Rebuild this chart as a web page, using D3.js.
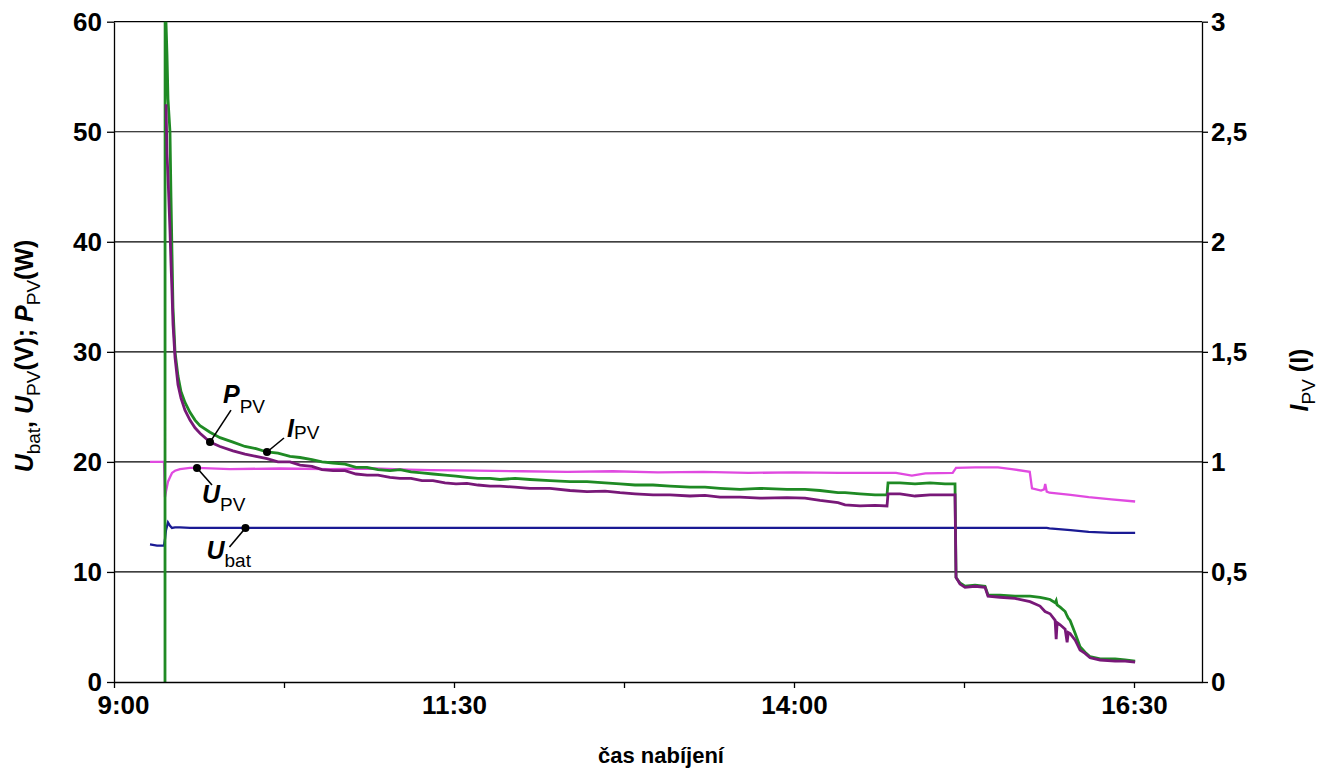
<!DOCTYPE html>
<html><head><meta charset="utf-8">
<script src="https://cdn.jsdelivr.net/npm/d3@7"></script>
<style>
body{margin:0;background:#fff;}
svg{display:block;}
text{font-family:Arial,"Liberation Sans",sans-serif;}
</style>
</head><body>
<svg id="c" width="1323" height="778"></svg>
<script>
// ---- data ----
const timesA = ["9:22:30","9:22:33","9:22:56","9:23:23","9:23:49","9:24:42","9:25:09","9:25:35","9:26:02","9:26:55",
"9:28:14","9:29:33","9:31:19","9:33:31","9:35:44","9:37:56","9:42:21","9:46:46","9:52:30","9:57:48",
"10:02:39","10:07:30","10:12:21","10:17:39","10:22:04","10:27:22","10:31:46","10:36:38","10:41:55","10:46:46",
"10:51:38","10:56:29","11:01:46","11:06:11","11:11:02","11:15:53","11:20:44","11:26:02","11:30:53","11:35:44",
"11:40:35","11:45:53","11:50:18","11:56:55","12:03:32","12:12:22","12:21:11","12:28:41","12:36:38","12:43:15",
"12:49:52","12:57:48","13:05:18","13:14:07","13:20:44","13:27:21","13:36:11","13:45:00","13:56:55","14:04:52",
"14:11:29","14:19:25","14:22:31","14:29:07","14:35:44","14:41:02","14:41:29","14:46:46","14:53:24","15:00:00",
"15:06:37","15:11:02","15:11:29","15:13:14","15:15:27","15:19:52","15:24:17","15:25:36","15:30:53","15:37:30",
"15:44:07","15:48:32","15:50:45","15:52:58","15:55:12","15:55:40","15:56:05","15:57:25","15:59:38","16:00:30",
"16:01:00","16:01:49","16:04:04","16:06:12","16:08:25","16:10:38","16:15:04","16:21:41","16:26:06","16:30:30"];
// I_PV in A (right axis)
const iPV = [0,3.2,3.0,2.85,2.65,2.5,2.2,1.95,1.7,1.5,
1.39,1.32,1.27,1.225,1.19,1.165,1.135,1.11,1.09,1.07,
1.06,1.045,1.04,1.025,1.02,1.01,1.0,0.995,0.99,0.975,
0.975,0.965,0.96,0.965,0.955,0.95,0.945,0.94,0.935,0.93,
0.925,0.925,0.92,0.925,0.92,0.915,0.91,0.91,0.905,0.9,
0.895,0.895,0.89,0.885,0.885,0.88,0.875,0.88,0.875,0.875,
0.87,0.86,0.86,0.855,0.85,0.85,0.905,0.905,0.9,0.905,
0.9,0.9,0.475,0.45,0.435,0.44,0.435,0.395,0.395,0.39,
0.39,0.385,0.38,0.375,0.36,0.37,0.35,0.34,0.32,0.30,
0.29,0.28,0.22,0.16,0.135,0.115,0.105,0.105,0.1,0.095];
// P_PV in W (left axis)
const pPV = [null,null,52.5,48.0,46.0,41.0,38.0,35.5,32.5,29.5,
27.0,25.8,24.7,23.8,23.1,22.6,21.8,21.4,21.0,20.7,
20.5,20.3,20.0,20.0,19.7,19.6,19.3,19.2,19.2,18.9,
18.8,18.8,18.6,18.5,18.5,18.3,18.3,18.1,18.0,18.05,
17.9,17.8,17.8,17.7,17.6,17.6,17.4,17.3,17.35,17.2,
17.1,17.0,17.0,16.9,16.95,16.8,16.8,16.7,16.75,16.7,
16.5,16.3,16.1,16.0,16.05,16.0,17.1,17.1,16.9,17.0,
17.0,17.0,9.5,8.9,8.6,8.7,8.6,7.8,7.7,7.6,
7.3,6.9,6.4,6.2,5.6,3.9,5.4,5.2,4.8,3.6,
4.5,4.4,3.8,2.9,2.6,2.2,2.0,1.9,1.9,1.8];

const timesB = ["9:15:53","9:18:58","9:22:04","9:22:30","9:22:56","9:23:49","9:24:42","9:25:35","9:26:55","9:29:07",
"9:33:31","9:36:37","9:51:11","10:13:14","10:35:00","10:55:00","11:10:00","11:20:00","11:40:00","12:00:00",
"12:20:00","12:40:00","13:00:00","13:20:00","13:40:00","14:00:00","14:20:00","14:45:00","14:52:00","14:58:00",
"15:10:00","15:11:30","15:20:00","15:30:00","15:36:00","15:44:00","15:45:00","15:49:00","15:50:20","15:50:50",
"15:51:30","15:52:43","16:02:00","16:10:00","16:20:00","16:30:30"];
// U_PV in V
const uPV = [20.0,20.0,20.0,16.8,17.3,18.2,18.6,19.0,19.2,19.35,
19.45,19.45,19.35,19.4,19.35,19.4,19.3,19.25,19.2,19.15,
19.1,19.15,19.05,19.1,19.0,19.05,19.0,19.0,18.75,18.95,
19.0,19.45,19.5,19.5,19.35,19.1,17.6,17.4,17.5,18.0,
17.3,17.2,17.0,16.8,16.6,16.4];
// U_bat in V
const uBat = [12.5,12.4,12.4,13.0,13.8,14.5,14.2,14.0,14.05,14.05,
14.0,14.0,14.0,14.0,14.0,14.0,14.0,14.0,14.0,14.0,
14.0,14.0,14.0,14.0,14.0,14.0,14.0,14.0,14.0,14.0,
14.0,14.0,14.0,14.0,14.0,14.0,14.0,14.0,14.0,14.0,
14.0,13.95,13.8,13.65,13.55,13.55];

const xDomain = ["9:00:00","17:00:00"];
const xTicks = ["9:00:00","10:15:00","11:30:00","12:45:00","14:00:00","15:15:00","16:30:00"];
const xTickLabels = ["9:00","","11:30","","14:00","","16:30"];
const yLeftTicks = [0,10,20,30,40,50,60];
const yRightTicks = [0,0.5,1,1.5,2,2.5,3];
const yRightLabels = ["0","0,5","1","1,5","2","2,5","3"];

// annotation anchors
const annotations = [
  {main:"P", sub:"PV", series:"P", t:"9:42:21", v:21.8, tx:13, ty:-39, sdy:10, lx:21, ly:-32},
  {main:"I", sub:"PV", series:"I", t:"10:07:30", v:1.045, tx:20, ty:-15, sdy:2, lx:17, ly:-14},
  {main:"U", sub:"PV", series:"U", t:"9:36:37", v:19.45, tx:5, ty:35, sdy:8, lx:15, ly:17},
  {main:"U", sub:"bat", series:"U", t:"9:58:00", v:14.0, tx:-39, ty:31, sdy:8, lx:-16, ly:19}
];

// ---- chart ----
const parse = d3.timeParse("%H:%M:%S");
const L = 114, R = 1202, T = 21.7, B = 682;
const svg = d3.select("#c");
const x = d3.scaleTime().domain(xDomain.map(parse)).range([L, R]);
const yL = d3.scaleLinear().domain([0, 60]).range([B, T]);
const yR = d3.scaleLinear().domain([0, 3]).range([B, T]);

// gridlines
svg.append("g").selectAll("line").data(yLeftTicks.filter(d => d > 0)).join("line")
  .attr("x1", L).attr("x2", R).attr("y1", d => yL(d)).attr("y2", d => yL(d))
  .attr("stroke", "#000").attr("stroke-width", 1.2);

svg.append("defs").append("clipPath").attr("id", "clip")
  .append("rect").attr("x", L).attr("y", T).attr("width", R - L).attr("height", B - T);

const g = svg.append("g").attr("clip-path", "url(#clip)");
const lineL = () => d3.line().defined(d => d[1] != null)
  .x(d => x(parse(d[0]))).y(d => yL(d[1]));
const lineR = d3.line().x(d => x(parse(d[0]))).y(d => yR(d[1]));

g.append("path").datum(timesB.map((t, i) => [t, uPV[i]])).attr("d", lineL())
  .attr("fill", "none").attr("stroke", "#e04ae0").attr("stroke-width", 2.3);
g.append("path").datum(timesB.map((t, i) => [t, uBat[i]])).attr("d", lineL())
  .attr("fill", "none").attr("stroke", "#1a1a94").attr("stroke-width", 2.3);
g.append("path").datum(timesA.map((t, i) => [t, iPV[i]])).attr("d", lineR)
  .attr("fill", "none").attr("stroke", "#1f8a24").attr("stroke-width", 2.8);
g.append("path").datum(timesA.map((t, i) => [t, pPV[i]])).attr("d", lineL())
  .attr("fill", "none").attr("stroke", "#781878").attr("stroke-width", 2.8);

// axes
const fs = "26px";
const axL = svg.append("g").attr("transform", `translate(${L},0)`)
  .call(d3.axisLeft(yL).tickValues(yLeftTicks).tickSize(7).tickSizeOuter(0).tickPadding(5));
const axR = svg.append("g").attr("transform", `translate(${R},0)`)
  .call(d3.axisRight(yR).tickValues(yRightTicks).tickSize(6).tickSizeOuter(0).tickPadding(3)
    .tickFormat((d, i) => yRightLabels[i]));
const axB = svg.append("g").attr("transform", `translate(0,${B})`)
  .call(d3.axisBottom(x).tickValues(xTicks.map(parse)).tickSize(6).tickSizeOuter(0).tickPadding(8)
    .tickFormat((d, i) => xTickLabels[i]));
[axL, axR, axB].forEach(a => {
  a.selectAll("path,line").attr("stroke", "#000").attr("stroke-width", 1.3);
  a.selectAll("text").attr("fill", "#000").style("font-size", fs).style("font-weight", "bold")
    .style("font-family", "Arial, 'Liberation Sans', sans-serif");
});
// the first time label sits a little right of its tick, as in the reference
axB.selectAll(".tick text").filter((d, i) => i === 0).attr("dx", 9);

// axis titles
const lt = svg.append("text").attr("transform", "translate(33,356) rotate(-90)")
  .attr("text-anchor", "middle").style("font-size", "25px").style("font-weight", "bold");
lt.append("tspan").text("U").style("font-style", "italic");
lt.append("tspan").text("bat").attr("dy", 7).style("font-size", "19px").style("font-weight", "normal");
lt.append("tspan").text(", ").attr("dy", -7);
lt.append("tspan").text("U").style("font-style", "italic");
lt.append("tspan").text("PV").attr("dy", 7).style("font-size", "19px").style("font-weight", "normal");
lt.append("tspan").text("(V);  ").attr("dy", -7);
lt.append("tspan").text("P").style("font-style", "italic");
lt.append("tspan").text("PV").attr("dy", 7).style("font-size", "19px").style("font-weight", "normal");
lt.append("tspan").text("(W)").attr("dy", -7);

const rt = svg.append("text").attr("transform", "translate(1308,380) rotate(-90)")
  .attr("text-anchor", "middle").style("font-size", "25px").style("font-weight", "bold");
rt.append("tspan").text("I").style("font-style", "italic");
rt.append("tspan").text("PV").attr("dy", 7).style("font-size", "19px").style("font-weight", "normal");
rt.append("tspan").text(" (I)").attr("dy", -7);

svg.append("text").attr("x", 661).attr("y", 763).attr("text-anchor", "middle")
  .style("font-size", "22px").style("font-weight", "bold").text("čas nabíjení");

// annotations
annotations.forEach(a => {
  const px = x(parse(a.t));
  const py = a.series === "I" ? yR(a.v) : yL(a.v);
  svg.append("line").attr("x1", px).attr("y1", py).attr("x2", px + a.lx).attr("y2", py + a.ly)
    .attr("stroke", "#000").attr("stroke-width", 1.6);
  svg.append("circle").attr("cx", px).attr("cy", py).attr("r", 4).attr("fill", "#000");
  const t = svg.append("text").attr("x", px + a.tx).attr("y", py + a.ty)
    .style("font-size", "25px").style("font-weight", "bold");
  t.append("tspan").text(a.main).style("font-style", "italic");
  t.append("tspan").text(a.sub).attr("dy", a.sdy).style("font-size", "19px").style("font-weight", "normal");
});
</script>
</body></html>
